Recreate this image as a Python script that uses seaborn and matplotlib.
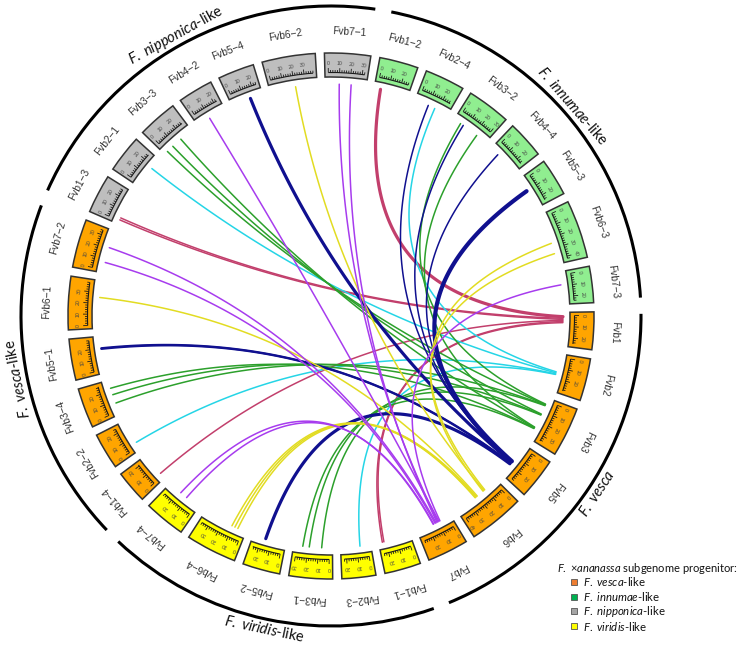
import numpy as np
import pandas as pd
import matplotlib
matplotlib.use("Agg")
import matplotlib.pyplot as plt
from matplotlib.patches import Wedge, Arc, Rectangle
from matplotlib.collections import LineCollection
import seaborn as sns

# chromosome sectors, clockwise starting at F. vesca Fvb1 (3 o'clock)
vesca_chr = ["Fvb1", "Fvb2", "Fvb3", "Fvb5", "Fvb6", "Fvb7"]
vesca_len = [25, 29, 35, 28, 40, 28]
viridis_chr = ["Fvb1-1", "Fvb2-3", "Fvb3-1", "Fvb5-2", "Fvb6-4", "Fvb7-4"]
viridis_len = [24, 22, 30, 25, 36, 28]
vescalike_chr = ["Fvb1-4", "Fvb2-2", "Fvb3-4", "Fvb5-1", "Fvb6-1", "Fvb7-2"]
vescalike_len = [21, 24, 27, 28, 38, 34]
nipponica_chr = ["Fvb1-3", "Fvb2-1", "Fvb3-3", "Fvb4-2", "Fvb5-4", "Fvb6-2", "Fvb7-1"]
nipponica_len = [26, 25, 27, 23, 24, 38, 32]
innumae_chr = ["Fvb1-2", "Fvb2-4", "Fvb3-2", "Fvb4-4", "Fvb5-3", "Fvb6-3", "Fvb7-3"]
innumae_len = [26, 27, 30, 25, 25, 42, 24]

group_label = [r"$\mathit{F.}$ $\mathit{vesca}$", r"$\mathit{F.}$ $\mathit{viridis}$-like",
               r"$\mathit{F.}$ $\mathit{vesca}$-like", r"$\mathit{F.}$ $\mathit{nipponica}$-like",
               r"$\mathit{F.}$ $\mathit{innumae}$-like"]
group_fill = ["#FFA500", "#FFFF00", "#FFA500", "#BEBEBE", "#90EE90"]

# syntenic links (position in Mb)
link_from = ["Fvb1-2", "Fvb1-3", "Fvb1-3", "Fvb1-4", "Fvb1-1", "Fvb1-1",
             "Fvb2-4", "Fvb2-1", "Fvb2-2", "Fvb2-3",
             "Fvb3-3", "Fvb3-3", "Fvb3-3", "Fvb3-4", "Fvb3-4", "Fvb3-4",
             "Fvb3-1", "Fvb3-1", "Fvb3-1", "Fvb3-2", "Fvb3-2",
             "Fvb5-4", "Fvb5-3", "Fvb5-1", "Fvb5-1", "Fvb5-2", "Fvb2-4", "Fvb3-2", "Fvb4-4",
             "Fvb6-2", "Fvb6-3", "Fvb6-3", "Fvb6-1", "Fvb6-4", "Fvb6-4", "Fvb6-4",
             "Fvb7-1", "Fvb7-1", "Fvb4-2", "Fvb7-2", "Fvb7-2", "Fvb7-3", "Fvb7-4", "Fvb7-4"]
link_from_pos = [3.0, 3.0, 1.0, 2.5, 23.5, 22.0,
                 16.8, 17.6, 4.4, 7.0,
                 0.5, 7.4, 17.3, 7.9, 16.1, 22.4,
                 7.0, 18.5, 24.5, 4.0, 22.5,
                 15.3, 10.0, 20.0, 19.3, 16.0, 10.2, 7.0, 5.5,
                 21.0, 25.0, 35.0, 25.5, 11.0, 8.0, 5.0,
                 10.0, 21.0, 9.8, 21.0, 6.8, 9.0, 11.0, 18.0]
link_to = ["Fvb1"] * 6 + ["Fvb2"] * 4 + ["Fvb3"] * 11 + ["Fvb5"] * 8 + ["Fvb6"] * 7 + ["Fvb7"] * 8
link_to_pos = [1.0, 2.5, 3.5, 4.5, 5.5, 6.5,
               14.0, 15.0, 16.0, 16.5,
               3.5, 13.0, 27.0, 4.0, 13.5, 27.5,
               4.5, 14.0, 28.0, 3.0, 26.5,
               17.0, 16.0, 18.0, 18.5, 19.0, 16.5, 17.5, 16.2,
               12.0, 11.0, 13.0, 20.0, 21.0, 22.0, 22.5,
               10.0, 11.0, 9.0, 12.0, 13.0, 8.0, 14.5, 15.0]
link_weight = ["thick", "thin", "thin", "thin", "thin", "thin",
               "thin", "thin", "thin", "thin",
               "thin", "thin", "thin", "thin", "thin", "thin",
               "thin", "thin", "thin", "thin", "thin",
               "thick", "xthick", "mid", "mid", "thick", "thin", "thin", "thin",
               "thin", "thin", "thin", "thin", "thin", "thin", "thin",
               "thin", "thin", "thin", "thin", "thin", "thin", "thin", "thin"]

link_colors = {"Fvb1": "#C23F6C", "Fvb2": "#25D5E6", "Fvb3": "#2CA02C",
               "Fvb5": "#10108F", "Fvb6": "#E2DC22", "Fvb7": "#A73CEE"}
weight_lw = {"thin": 1.1, "mid": 1.5, "thick": 2.3, "xthick": 3.0}

legend_labels = [r"$\mathit{F.}$ $\mathit{vesca}$-like", r"$\mathit{F.}$ $\mathit{innumae}$-like",
                 r"$\mathit{F.}$ $\mathit{nipponica}$-like", r"$\mathit{F.}$ $\mathit{viridis}$-like"]
legend_colors = ["#ED7D31", "#00B050", "#A5A5A5", "#FFFF00"]

sns.set_theme(style="white")
plt.rcParams["font.family"] = ["Liberation Sans", "DejaVu Sans"]
plt.rcParams["mathtext.fontset"] = "custom"
plt.rcParams["mathtext.rm"] = "Lato"
plt.rcParams["mathtext.it"] = "Lato:italic"

CX, CY = 331, 332
R_LINK, R_IN, R_OUT = 232, 239, 263
R_BASE, R_TLAB, R_LAB = 243.5, 252.5, 284
R_ARC, R_GLAB = 310, 320
GAP, PAD, START = 2.0, 1.6, 0.9


def pol(r, a):
    a = np.radians(a)
    return CX + r * np.cos(a), CY + r * np.sin(a)


rows = []
for gi, (names, lens) in enumerate([(vesca_chr, vesca_len), (viridis_chr, viridis_len),
                                     (vescalike_chr, vescalike_len), (nipponica_chr, nipponica_len),
                                     (innumae_chr, innumae_len)]):
    for n, L in zip(names, lens):
        rows.append((n, L, gi))
sec = pd.DataFrame(rows, columns=["chrom", "length", "group"])
k = (360 - len(sec) * (GAP + PAD)) / sec["length"].sum()
sec["width"] = k * sec["length"] + PAD
sec["start"] = START - np.concatenate([[0], np.cumsum(sec["width"] + GAP).values[:-1]])
sec["end"] = sec["start"] - sec["width"]
sec = sec.set_index("chrom")


def ang(chrom, pos):
    return sec.loc[chrom, "start"] - PAD / 2 - k * pos


fig = plt.figure(figsize=(7.46, 6.48), dpi=100)
ax = fig.add_axes([0, 0, 1, 1])

# links as quadratic bezier curves
t = np.linspace(0, 1, 80)[:, None]
parts = []
for i, (a, pa, b, pb, w) in enumerate(zip(link_from, link_from_pos, link_to, link_to_pos, link_weight)):
    A = np.array(pol(R_LINK, ang(a, pa))) - [CX, CY]
    B = np.array(pol(R_LINK, ang(b, pb))) - [CX, CY]
    C = 0.1 * (A + B) / 2
    P = (1 - t) ** 2 * A + 2 * t * (1 - t) * C + t ** 2 * B
    parts.append(pd.DataFrame({"x": P[:, 0] + CX, "y": P[:, 1] + CY, "link": i,
                               "color": link_colors[b], "weight": w}))
links = pd.concat(parts, ignore_index=True)
sns.lineplot(data=links, x="x", y="y", units="link", estimator=None, sort=False,
             hue="color", palette={c: c for c in link_colors.values()},
             size="weight", sizes=weight_lw, legend=False, ax=ax)

# chromosome boxes, axes and labels
for name in sec.index:
    s = sec.loc[name]
    length, grp = int(s["length"]), int(s["group"])
    ax.add_patch(Wedge((CX, CY), R_OUT, s["end"], s["start"], width=R_OUT - R_IN,
                       facecolor=group_fill[grp], edgecolor="#333333", lw=1.1))
    a0, a1 = ang(name, 0), ang(name, length)
    ax.add_patch(Arc((CX, CY), 2 * R_BASE, 2 * R_BASE, theta1=a1, theta2=a0, color="#1a1a1a", lw=0.8))
    segs = []
    for p in range(0, length + 1, 2):
        aa = ang(name, p)
        r2 = R_BASE + (4.5 if p % 10 == 0 else 2.5)
        segs.append([pol(R_BASE, aa), pol(r2, aa)])
        if p % 10 == 0:
            ax.text(*pol(R_TLAB, aa), str(p), fontsize=3.7, color="#444444",
                    rotation=aa - 90, ha="center", va="center", rotation_mode="anchor")
    ax.add_collection(LineCollection(segs, colors="#1a1a1a", linewidths=0.6))
    mid = (s["start"] + s["end"]) / 2
    ax.text(*pol(R_LAB, mid), name.replace("-", "\u2212"), fontsize=7.3, color="#333333",
            rotation=mid - 90, ha="center", va="center", rotation_mode="anchor")

# subgenome arcs and names
for gi, label in enumerate(group_label):
    g = sec[sec["group"] == gi]
    a_start, a_end = g["start"].iloc[0] - 0.5, g["end"].iloc[-1] + 0.5
    ax.add_patch(Arc((CX, CY), 2 * R_ARC, 2 * R_ARC, theta1=a_end, theta2=a_start, color="black", lw=2.2))
    mid = (a_start + a_end) / 2
    mid = (mid + 180) % 360 - 180
    rot = mid + 90 if -160 < mid < -10 else mid - 90
    ax.text(*pol(R_GLAB, mid), label, fontsize=10.5, family="Lato", color="#111111",
            rotation=rot, ha="center", va="center", rotation_mode="anchor")

# legend
ax.text(557, 79, r"$\mathit{F.}$ $\mathit{×ananassa}$ subgenome progenitor:", fontsize=8,
        family="Lato", ha="left", va="center", color="#111111")
for i, (lab, col) in enumerate(zip(legend_labels, legend_colors)):
    y = 66 - i * 14.7
    ax.add_patch(Rectangle((571, y - 3), 6, 6, facecolor=col, edgecolor="#555555", lw=0.6))
    ax.text(583, y, lab, fontsize=8.2, family="Lato", ha="left", va="center", color="#111111")

ax.set_xlim(0, 746)
ax.set_ylim(0, 648)
ax.set_aspect("equal")
ax.axis("off")
fig.savefig("out.png", dpi=100)
